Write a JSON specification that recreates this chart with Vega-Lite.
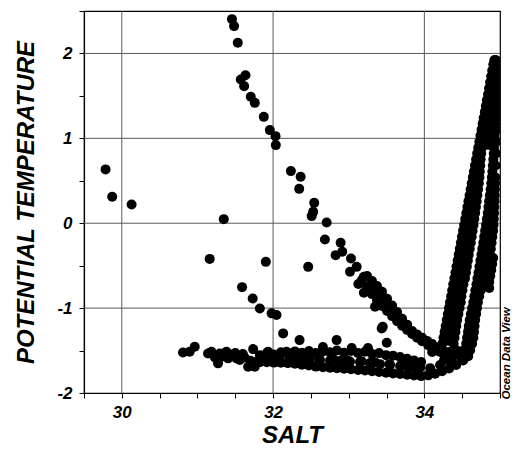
{
  "$schema": "https://vega.github.io/schema/vega-lite/v6.json",
  "width": 416,
  "height": 382,
  "autosize": {"type": "none"},
  "padding": {"left": 84, "top": 11, "right": 12, "bottom": 60},
  "background": "white",
  "config": {
    "view": {"stroke": "black", "strokeWidth": 1.2},
    "axis": {
      "labelFont": "Liberation Sans",
      "labelFontSize": 17,
      "labelFontWeight": "bold",
      "labelFontStyle": "italic",
      "labelColor": "black",
      "titleFont": "Liberation Sans",
      "titleFontWeight": "bold",
      "titleFontStyle": "italic",
      "titleColor": "black",
      "domainColor": "black",
      "domainWidth": 1.2,
      "tickColor": "black",
      "tickSize": 5,
      "tickWidth": 1,
      "labelFlush": false,
      "labelOverlap": false,
      "labelBound": false
    }
  },
  "datasets": {
    "grid_salt": [{"salt": 30}, {"salt": 32}, {"salt": 34}],
    "grid_temp": [{"temp": -1}, {"temp": 0}, {"temp": 1}, {"temp": 2}]
  },
  "data": {
    "values": [
      {"salt": 29.785, "temp": 0.634}, {"salt": 29.873, "temp": 0.311}, {"salt": 30.129, "temp": 0.221},
      {"salt": 31.348, "temp": 0.048}, {"salt": 31.162, "temp": -0.42}, {"salt": 31.59, "temp": -0.753},
      {"salt": 31.73, "temp": -0.886}, {"salt": 31.904, "temp": -0.455}, {"salt": 32.464, "temp": -0.514},
      {"salt": 31.825, "temp": -1.004}, {"salt": 31.98, "temp": -1.062}, {"salt": 32.045, "temp": -1.082},
      {"salt": 32.133, "temp": -1.298}, {"salt": 32.35, "temp": -1.377}, {"salt": 32.84, "temp": -1.377},
      {"salt": 33.436, "temp": -1.239}, {"salt": 33.503, "temp": -1.409}, {"salt": 32.659, "temp": -1.459},
      {"salt": 33.039, "temp": -1.471}, {"salt": 33.255, "temp": -1.471},

      {"salt": 31.456, "temp": 2.404}, {"salt": 31.484, "temp": 2.322}, {"salt": 31.533, "temp": 2.125},
      {"salt": 31.573, "temp": 1.694}, {"salt": 31.635, "temp": 1.744}, {"salt": 31.617, "temp": 1.615},
      {"salt": 31.705, "temp": 1.489}, {"salt": 31.758, "temp": 1.418}, {"salt": 31.877, "temp": 1.253},
      {"salt": 31.957, "temp": 1.097}, {"salt": 32.032, "temp": 1.026}, {"salt": 32.036, "temp": 0.92},
      {"salt": 32.235, "temp": 0.614}, {"salt": 32.364, "temp": 0.547}, {"salt": 32.345, "temp": 0.405},
      {"salt": 32.544, "temp": 0.24}, {"salt": 32.53, "temp": 0.134}, {"salt": 32.51, "temp": 0.084},
      {"salt": 32.708, "temp": 0.009}, {"salt": 32.685, "temp": -0.191}, {"salt": 32.893, "temp": -0.231},
      {"salt": 32.827, "temp": -0.376}, {"salt": 32.915, "temp": -0.337}, {"salt": 33.03, "temp": -0.415},
      {"salt": 33.105, "temp": -0.514}, {"salt": 33.017, "temp": -0.572}, {"salt": 33.2, "temp": -0.632},
      {"salt": 33.127, "temp": -0.717}, {"salt": 33.28, "temp": -0.741}, {"salt": 33.2, "temp": -0.82},
      {"salt": 33.378, "temp": -0.847}, {"salt": 33.348, "temp": -0.985}, {"salt": 33.48, "temp": -0.906},
      {"salt": 33.546, "temp": -0.985}, {"salt": 33.61, "temp": -1.062}, {"salt": 33.45, "temp": -1.22},
      {"salt": 33.68, "temp": -1.12}, {"salt": 33.77, "temp": -1.2},

      {"salt": 30.809, "temp": -1.522}, {"salt": 30.897, "temp": -1.515}, {"salt": 30.964, "temp": -1.456},
      {"salt": 31.14, "temp": -1.534}, {"salt": 31.185, "temp": -1.515}, {"salt": 31.272, "temp": -1.651},
      {"salt": 31.295, "temp": -1.534}, {"salt": 31.383, "temp": -1.515}, {"salt": 31.405, "temp": -1.592},
      {"salt": 31.516, "temp": -1.592}, {"salt": 31.56, "temp": -1.612}, {"salt": 31.67, "temp": -1.691},
      {"salt": 31.736, "temp": -1.483}, {"salt": 31.758, "temp": -1.691}, {"salt": 31.781, "temp": -1.633},
      {"salt": 31.934, "temp": -1.515}, {"salt": 31.979, "temp": -1.592}, {"salt": 32.089, "temp": -1.554},
      {"salt": 32.178, "temp": -1.515}, {"salt": 32.265, "temp": -1.612}, {"salt": 31.45, "temp": -1.55},
      {"salt": 31.62, "temp": -1.58}, {"salt": 31.7, "temp": -1.62}, {"salt": 31.6, "temp": -1.54},
      {"salt": 31.85, "temp": -1.6}, {"salt": 31.23, "temp": -1.58}, {"salt": 31.33, "temp": -1.57},
      {"salt": 31.5, "temp": -1.53}, {"salt": 31.9, "temp": -1.57}, {"salt": 32.0, "temp": -1.6},

      {"salt": 33.242, "temp": -0.623}, {"salt": 33.308, "temp": -0.682}, {"salt": 33.374, "temp": -0.741},
      {"salt": 33.44, "temp": -0.808}, {"salt": 33.507, "temp": -0.889}, {"salt": 33.573, "temp": -0.969},
      {"salt": 33.639, "temp": -1.047}, {"salt": 33.705, "temp": -1.124}, {"salt": 33.772, "temp": -1.196},
      {"salt": 33.838, "temp": -1.269}, {"salt": 33.904, "temp": -1.312}, {"salt": 33.97, "temp": -1.349},
      {"salt": 34.036, "temp": -1.386}, {"salt": 34.103, "temp": -1.424}, {"salt": 34.169, "temp": -1.463},
      {"salt": 34.222, "temp": -1.483},

      {"salt": 33.175, "temp": -0.668}, {"salt": 33.242, "temp": -0.751}, {"salt": 33.308, "temp": -0.835},
      {"salt": 33.374, "temp": -0.909}, {"salt": 33.44, "temp": -0.976}, {"salt": 33.507, "temp": -1.035},
      {"salt": 33.573, "temp": -1.094}, {"salt": 33.639, "temp": -1.153}, {"salt": 33.705, "temp": -1.207},
      {"salt": 33.772, "temp": -1.256}, {"salt": 33.838, "temp": -1.304}, {"salt": 33.904, "temp": -1.35},
      {"salt": 33.97, "temp": -1.389}, {"salt": 34.05, "temp": -1.436},

      {"salt": 31.825, "temp": -1.554}, {"salt": 31.917, "temp": -1.53}, {"salt": 32.01, "temp": -1.546},
      {"salt": 32.103, "temp": -1.52}, {"salt": 32.195, "temp": -1.53}, {"salt": 32.288, "temp": -1.51},
      {"salt": 32.381, "temp": -1.525}, {"salt": 32.474, "temp": -1.505}, {"salt": 32.566, "temp": -1.528},
      {"salt": 32.659, "temp": -1.51}, {"salt": 32.752, "temp": -1.52}, {"salt": 32.844, "temp": -1.5},
      {"salt": 32.937, "temp": -1.525}, {"salt": 33.03, "temp": -1.505}, {"salt": 33.123, "temp": -1.53},
      {"salt": 33.215, "temp": -1.515}, {"salt": 33.308, "temp": -1.54}, {"salt": 33.401, "temp": -1.53},
      {"salt": 33.493, "temp": -1.554}, {"salt": 33.586, "temp": -1.56}, {"salt": 33.679, "temp": -1.577},
      {"salt": 33.772, "temp": -1.598}, {"salt": 33.864, "temp": -1.618}, {"salt": 33.957, "temp": -1.636},

      {"salt": 31.87, "temp": -1.59}, {"salt": 32.06, "temp": -1.585}, {"salt": 32.24, "temp": -1.585},
      {"salt": 32.43, "temp": -1.59}, {"salt": 32.61, "temp": -1.6}, {"salt": 32.8, "temp": -1.605},
      {"salt": 32.98, "temp": -1.615}, {"salt": 33.17, "temp": -1.625}, {"salt": 33.35, "temp": -1.64},
      {"salt": 33.54, "temp": -1.66}, {"salt": 33.73, "temp": -1.68}, {"salt": 33.91, "temp": -1.71},

      {"salt": 31.825, "temp": -1.636}, {"salt": 31.917, "temp": -1.638}, {"salt": 32.01, "temp": -1.642},
      {"salt": 32.103, "temp": -1.644}, {"salt": 32.195, "temp": -1.648}, {"salt": 32.288, "temp": -1.656},
      {"salt": 32.381, "temp": -1.667}, {"salt": 32.474, "temp": -1.677}, {"salt": 32.566, "temp": -1.689},
      {"salt": 32.659, "temp": -1.697}, {"salt": 32.752, "temp": -1.703}, {"salt": 32.844, "temp": -1.709},
      {"salt": 32.937, "temp": -1.714}, {"salt": 33.03, "temp": -1.72}, {"salt": 33.123, "temp": -1.728},
      {"salt": 33.215, "temp": -1.736}, {"salt": 33.308, "temp": -1.744}, {"salt": 33.401, "temp": -1.753},
      {"salt": 33.493, "temp": -1.761}, {"salt": 33.586, "temp": -1.769}, {"salt": 33.679, "temp": -1.777},
      {"salt": 33.772, "temp": -1.786}, {"salt": 33.864, "temp": -1.794}, {"salt": 33.957, "temp": -1.801},
      {"salt": 34.05, "temp": -1.792}, {"salt": 34.142, "temp": -1.772}, {"salt": 34.235, "temp": -1.744},
      {"salt": 34.328, "temp": -1.711}, {"salt": 34.421, "temp": -1.669}, {"salt": 34.513, "temp": -1.617},
      {"salt": 34.58, "temp": -1.566},

      {"salt": 31.87, "temp": -1.595}, {"salt": 31.96, "temp": -1.59}, {"salt": 32.089, "temp": -1.589},
      {"salt": 32.222, "temp": -1.595}, {"salt": 32.354, "temp": -1.601},
      {"salt": 32.487, "temp": -1.607}, {"salt": 32.619, "temp": -1.612}, {"salt": 32.752, "temp": -1.618},
      {"salt": 32.884, "temp": -1.624}, {"salt": 33.017, "temp": -1.63}, {"salt": 33.149, "temp": -1.636},
      {"salt": 33.281, "temp": -1.648}, {"salt": 33.414, "temp": -1.66}, {"salt": 33.546, "temp": -1.671},
      {"salt": 33.679, "temp": -1.683}, {"salt": 33.811, "temp": -1.691}, {"salt": 33.944, "temp": -1.698},
      {"salt": 34.076, "temp": -1.707}, {"salt": 34.208, "temp": -1.671}, {"salt": 34.341, "temp": -1.636},
      {"salt": 34.473, "temp": -1.566},

      {"salt": 34.103, "temp": -1.518}, {"salt": 34.208, "temp": -1.518}, {"salt": 34.314, "temp": -1.518},
      {"salt": 34.421, "temp": -1.495}, {"salt": 34.526, "temp": -1.495}, {"salt": 34.606, "temp": -1.495},
      {"salt": 34.261, "temp": -1.612}, {"salt": 34.367, "temp": -1.577},

      {"salt": 34.239, "temp": -1.42}, {"salt": 34.253, "temp": -1.35}, {"salt": 34.268, "temp": -1.28},
      {"salt": 34.282, "temp": -1.21}, {"salt": 34.296, "temp": -1.14}, {"salt": 34.311, "temp": -1.07},
      {"salt": 34.325, "temp": -1.0}, {"salt": 34.339, "temp": -0.93}, {"salt": 34.354, "temp": -0.86},
      {"salt": 34.368, "temp": -0.79}, {"salt": 34.382, "temp": -0.72}, {"salt": 34.397, "temp": -0.65},
      {"salt": 34.411, "temp": -0.58}, {"salt": 34.425, "temp": -0.51}, {"salt": 34.44, "temp": -0.44},
      {"salt": 34.454, "temp": -0.37}, {"salt": 34.469, "temp": -0.3}, {"salt": 34.483, "temp": -0.23},
      {"salt": 34.497, "temp": -0.16}, {"salt": 34.512, "temp": -0.09}, {"salt": 34.526, "temp": -0.02},
      {"salt": 34.54, "temp": 0.05}, {"salt": 34.555, "temp": 0.12}, {"salt": 34.569, "temp": 0.19},
      {"salt": 34.583, "temp": 0.26}, {"salt": 34.598, "temp": 0.33}, {"salt": 34.612, "temp": 0.4},
      {"salt": 34.626, "temp": 0.47}, {"salt": 34.641, "temp": 0.54}, {"salt": 34.655, "temp": 0.61},
      {"salt": 34.669, "temp": 0.68}, {"salt": 34.684, "temp": 0.75}, {"salt": 34.698, "temp": 0.82},
      {"salt": 34.712, "temp": 0.89}, {"salt": 34.727, "temp": 0.96}, {"salt": 34.741, "temp": 1.03},
      {"salt": 34.756, "temp": 1.1}, {"salt": 34.77, "temp": 1.17}, {"salt": 34.784, "temp": 1.24},
      {"salt": 34.799, "temp": 1.31}, {"salt": 34.813, "temp": 1.38}, {"salt": 34.827, "temp": 1.45},
      {"salt": 34.842, "temp": 1.52}, {"salt": 34.856, "temp": 1.59}, {"salt": 34.87, "temp": 1.66},
      {"salt": 34.885, "temp": 1.73}, {"salt": 34.899, "temp": 1.8}, {"salt": 34.913, "temp": 1.87},
      {"salt": 34.93, "temp": 1.92},

      {"salt": 34.32, "temp": -1.385}, {"salt": 34.333, "temp": -1.315}, {"salt": 34.346, "temp": -1.245},
      {"salt": 34.359, "temp": -1.175}, {"salt": 34.373, "temp": -1.105}, {"salt": 34.388, "temp": -1.035},
      {"salt": 34.403, "temp": -0.965}, {"salt": 34.416, "temp": -0.895}, {"salt": 34.429, "temp": -0.825},
      {"salt": 34.443, "temp": -0.755}, {"salt": 34.458, "temp": -0.685}, {"salt": 34.474, "temp": -0.615},
      {"salt": 34.487, "temp": -0.545}, {"salt": 34.501, "temp": -0.475}, {"salt": 34.514, "temp": -0.405},
      {"salt": 34.528, "temp": -0.335}, {"salt": 34.541, "temp": -0.265}, {"salt": 34.555, "temp": -0.195},
      {"salt": 34.568, "temp": -0.125}, {"salt": 34.581, "temp": -0.055}, {"salt": 34.594, "temp": 0.015},
      {"salt": 34.607, "temp": 0.085}, {"salt": 34.619, "temp": 0.155}, {"salt": 34.631, "temp": 0.225},
      {"salt": 34.644, "temp": 0.295}, {"salt": 34.655, "temp": 0.365}, {"salt": 34.667, "temp": 0.435},

      {"salt": 34.387, "temp": -1.42}, {"salt": 34.399, "temp": -1.35}, {"salt": 34.411, "temp": -1.28},
      {"salt": 34.422, "temp": -1.21}, {"salt": 34.434, "temp": -1.14}, {"salt": 34.45, "temp": -1.07},
      {"salt": 34.465, "temp": -1.0}, {"salt": 34.481, "temp": -0.93}, {"salt": 34.49, "temp": -0.86},
      {"salt": 34.503, "temp": -0.79}, {"salt": 34.516, "temp": -0.72}, {"salt": 34.537, "temp": -0.65},
      {"salt": 34.55, "temp": -0.58}, {"salt": 34.562, "temp": -0.51}, {"salt": 34.575, "temp": -0.44},
      {"salt": 34.587, "temp": -0.37}, {"salt": 34.6, "temp": -0.3}, {"salt": 34.614, "temp": -0.23},
      {"salt": 34.626, "temp": -0.16}, {"salt": 34.638, "temp": -0.09}, {"salt": 34.65, "temp": -0.02},
      {"salt": 34.66, "temp": 0.05}, {"salt": 34.672, "temp": 0.12}, {"salt": 34.682, "temp": 0.19},
      {"salt": 34.692, "temp": 0.26}, {"salt": 34.701, "temp": 0.33}, {"salt": 34.711, "temp": 0.4},
      {"salt": 34.72, "temp": 0.47}, {"salt": 34.728, "temp": 0.54}, {"salt": 34.733, "temp": 0.61},
      {"salt": 34.739, "temp": 0.68}, {"salt": 34.744, "temp": 0.75}, {"salt": 34.752, "temp": 0.82},
      {"salt": 34.761, "temp": 0.89}, {"salt": 34.77, "temp": 0.96}, {"salt": 34.779, "temp": 1.03},
      {"salt": 34.789, "temp": 1.1}, {"salt": 34.798, "temp": 1.17}, {"salt": 34.808, "temp": 1.24},
      {"salt": 34.819, "temp": 1.31}, {"salt": 34.83, "temp": 1.38}, {"salt": 34.84, "temp": 1.45},
      {"salt": 34.851, "temp": 1.52}, {"salt": 34.862, "temp": 1.59}, {"salt": 34.875, "temp": 1.66},
      {"salt": 34.888, "temp": 1.73}, {"salt": 34.901, "temp": 1.8}, {"salt": 34.915, "temp": 1.87},
      {"salt": 34.926, "temp": 1.92},

      {"salt": 34.843, "temp": 0.925}, {"salt": 34.85, "temp": 0.995}, {"salt": 34.858, "temp": 1.065},
      {"salt": 34.866, "temp": 1.135}, {"salt": 34.873, "temp": 1.205}, {"salt": 34.88, "temp": 1.275},
      {"salt": 34.887, "temp": 1.345}, {"salt": 34.894, "temp": 1.415},

      {"salt": 34.553, "temp": -1.42}, {"salt": 34.564, "temp": -1.35}, {"salt": 34.577, "temp": -1.28},
      {"salt": 34.587, "temp": -1.21}, {"salt": 34.599, "temp": -1.14}, {"salt": 34.615, "temp": -1.07},
      {"salt": 34.631, "temp": -1.0}, {"salt": 34.647, "temp": -0.93}, {"salt": 34.661, "temp": -0.86},
      {"salt": 34.674, "temp": -0.79}, {"salt": 34.689, "temp": -0.72}, {"salt": 34.702, "temp": -0.65},
      {"salt": 34.716, "temp": -0.58}, {"salt": 34.728, "temp": -0.51}, {"salt": 34.741, "temp": -0.44},
      {"salt": 34.754, "temp": -0.37}, {"salt": 34.766, "temp": -0.3}, {"salt": 34.779, "temp": -0.23},
      {"salt": 34.791, "temp": -0.16}, {"salt": 34.803, "temp": -0.09}, {"salt": 34.815, "temp": -0.02},
      {"salt": 34.826, "temp": 0.05}, {"salt": 34.838, "temp": 0.12}, {"salt": 34.847, "temp": 0.19},
      {"salt": 34.856, "temp": 0.26}, {"salt": 34.866, "temp": 0.33}, {"salt": 34.876, "temp": 0.4},
      {"salt": 34.885, "temp": 0.47}, {"salt": 34.893, "temp": 0.54}, {"salt": 34.899, "temp": 0.61},
      {"salt": 34.905, "temp": 0.68}, {"salt": 34.911, "temp": 0.75}, {"salt": 34.917, "temp": 0.82},
      {"salt": 34.92, "temp": 0.89}, {"salt": 34.924, "temp": 0.96}, {"salt": 34.928, "temp": 1.03},
      {"salt": 34.932, "temp": 1.1}, {"salt": 34.935, "temp": 1.17}, {"salt": 34.937, "temp": 1.24},
      {"salt": 34.941, "temp": 1.31}, {"salt": 34.944, "temp": 1.38}, {"salt": 34.948, "temp": 1.45},
      {"salt": 34.95, "temp": 1.52}, {"salt": 34.95, "temp": 1.59}, {"salt": 34.95, "temp": 1.66},
      {"salt": 34.95, "temp": 1.73}, {"salt": 34.95, "temp": 1.8}, {"salt": 34.95, "temp": 1.87},
      {"salt": 34.95, "temp": 1.92},

      {"salt": 34.631, "temp": -1.42}, {"salt": 34.648, "temp": -1.35}, {"salt": 34.656, "temp": -1.28},
      {"salt": 34.664, "temp": -1.21}, {"salt": 34.672, "temp": -1.14}, {"salt": 34.684, "temp": -1.07},
      {"salt": 34.696, "temp": -1.0}, {"salt": 34.708, "temp": -0.93}, {"salt": 34.725, "temp": -0.86},
      {"salt": 34.746, "temp": -0.79}, {"salt": 34.766, "temp": -0.72}, {"salt": 34.787, "temp": -0.65},
      {"salt": 34.807, "temp": -0.58}, {"salt": 34.827, "temp": -0.51}, {"salt": 34.847, "temp": -0.44},
      {"salt": 34.866, "temp": -0.37}, {"salt": 34.879, "temp": -0.3}, {"salt": 34.889, "temp": -0.23},
      {"salt": 34.899, "temp": -0.16}, {"salt": 34.909, "temp": -0.09}, {"salt": 34.914, "temp": -0.02},
      {"salt": 34.918, "temp": 0.05}, {"salt": 34.922, "temp": 0.12}, {"salt": 34.924, "temp": 0.19},
      {"salt": 34.927, "temp": 0.26}, {"salt": 34.93, "temp": 0.33}, {"salt": 34.932, "temp": 0.4},
      {"salt": 34.935, "temp": 0.47}, {"salt": 34.938, "temp": 0.54}, {"salt": 34.942, "temp": 0.68},
      {"salt": 34.946, "temp": 0.82}, {"salt": 34.95, "temp": 0.96}, {"salt": 34.955, "temp": 1.1},
      {"salt": 34.958, "temp": 1.24}, {"salt": 34.96, "temp": 1.38}, {"salt": 34.96, "temp": 1.52},
      {"salt": 34.96, "temp": 1.66}, {"salt": 34.96, "temp": 1.8},

      {"salt": 34.858, "temp": -0.764}, {"salt": 34.858, "temp": -0.693}, {"salt": 34.871, "temp": -0.623},
      {"salt": 34.884, "temp": -0.552}, {"salt": 34.897, "temp": -0.481}, {"salt": 34.91, "temp": -0.41}
    ]
  },
  "layer": [
    {
      "data": {"name": "grid_salt"},
      "mark": {"type": "rule", "color": "#5a5a5a", "strokeWidth": 1},
      "encoding": {
        "x": {
          "field": "salt", "type": "quantitative",
          "scale": {"domain": [29.5, 35], "nice": false, "zero": false},
          "axis": null
        }
      }
    },
    {
      "data": {"name": "grid_temp"},
      "mark": {"type": "rule", "color": "#5a5a5a", "strokeWidth": 1},
      "encoding": {
        "y": {
          "field": "temp", "type": "quantitative",
          "scale": {"domain": [-2, 2.5], "nice": false, "zero": false},
          "axis": null
        }
      }
    },
    {
      "mark": {"type": "circle", "color": "black", "opacity": 1, "size": 100, "clip": true},
      "encoding": {
        "x": {
          "field": "salt", "type": "quantitative",
          "scale": {"domain": [29.5, 35], "nice": false, "zero": false},
          "axis": {
            "orient": "bottom",
            "title": "SALT",
            "titleFontSize": 24,
            "titlePadding": 3,
            "values": [29.5, 30, 30.5, 31, 31.5, 32, 32.5, 33, 33.5, 34, 34.5, 35],
            "labelExpr": "datum.value % 2 == 0 ? '' + datum.value : ''",
            "labelPadding": 6,
            "grid": false
          }
        },
        "y": {
          "field": "temp", "type": "quantitative",
          "scale": {"domain": [-2, 2.5], "nice": false, "zero": false},
          "axis": {
            "orient": "left",
            "title": "POTENTIAL TEMPERATURE",
            "titleFontSize": 24,
            "titlePadding": 18,
            "values": [-2, -1.5, -1, -0.5, 0, 0.5, 1, 1.5, 2, 2.5],
            "labelExpr": "datum.value % 1 == 0 ? '' + datum.value : ''",
            "labelPadding": 7,
            "grid": false
          }
        }
      }
    },
    {
      "data": {"values": [{"salt": 35, "temp": -2}]},
      "mark": {"type": "circle", "opacity": 0},
      "encoding": {
        "x": {
          "field": "salt", "type": "quantitative",
          "scale": {"domain": [29.5, 35], "nice": false, "zero": false},
          "axis": null
        },
        "y": {
          "field": "temp", "type": "quantitative",
          "scale": {"domain": [-2, 2.5], "nice": false, "zero": false},
          "axis": {
            "orient": "right",
            "title": "Ocean Data View",
            "titleFontSize": 11.5,
            "titleFontWeight": "bold",
            "titleFontStyle": "italic",
            "titleAngle": 270,
            "titleAlign": "left",
            "titleBaseline": "top",
            "titleX": 0.5,
            "titleY": 388,
            "labels": false,
            "ticks": false,
            "domain": false,
            "grid": false
          }
        }
      }
    }
  ],
  "resolve": {"axis": {"x": "independent", "y": "independent"}}
}
